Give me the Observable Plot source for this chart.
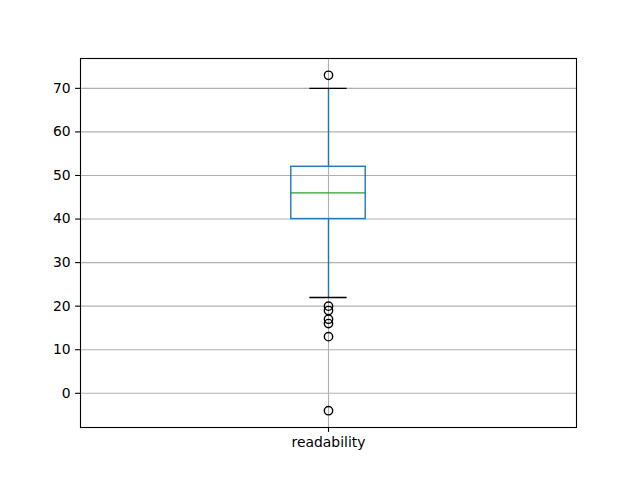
<!DOCTYPE html>
<html>
<head>
<meta charset="utf-8">
<script src="https://cdn.jsdelivr.net/npm/d3@7"></script>
<script src="https://cdn.jsdelivr.net/npm/@observablehq/plot@0.6"></script>
<style>
  html, body { margin: 0; padding: 0; background: #fff; }
  #chart { width: 640px; height: 480px; }
</style>
</head>
<body>
<div id="chart"></div>
<script>
// Data
const categories = ["readability"];
const q1 = [40];
const medians = [46];
const q3 = [52];
const whiskerLow = [22];
const whiskerHigh = [70];
const outliers = [[73, 20, 19, 17, 16, 13, -4]];
const yTicks = [0, 10, 20, 30, 40, 50, 60, 70];

const boxes = categories.map((c, i) => ({
  pos: i + 1, name: c, q1: q1[i], med: medians[i], q3: q3[i],
  lo: whiskerLow[i], hi: whiskerHigh[i]
}));
const points = categories.flatMap((c, i) => outliers[i].map(v => ({pos: i + 1, v})));

const allVals = points.map(d => d.v).concat(whiskerLow, whiskerHigh);
const ymin = d3.min(allVals), ymax = d3.max(allVals);
const pad = (ymax - ymin) * 0.05;

const halfBox = 0.075, halfCap = 0.0375;
const blue = "#1f77b4", green = "#2ca02c";
const lw = 1.39;

const chart = Plot.plot({
  width: 640,
  height: 480,
  marginLeft: 80,
  marginRight: 64,
  marginTop: 58,
  marginBottom: 53,
  style: {background: "#fff", color: "#000", fontFamily: "DejaVu Sans", fontSize: "13.9px"},
  x: {type: "linear", domain: [0.5, categories.length + 0.5]},
  y: {domain: [ymin - pad, ymax + pad]},
  marks: [
    Plot.gridY(yTicks, {stroke: "#b0b0b0", strokeOpacity: 1, strokeWidth: 1.1}),
    Plot.gridX(boxes.map(d => d.pos), {stroke: "#b0b0b0", strokeOpacity: 1, strokeWidth: 1.1}),
    Plot.ruleX(boxes, {x: "pos", y1: "q3", y2: "hi", stroke: blue, strokeWidth: lw}),
    Plot.ruleX(boxes, {x: "pos", y1: "lo", y2: "q1", stroke: blue, strokeWidth: lw}),
    Plot.ruleY(boxes, {y: "hi", x1: d => d.pos - halfCap, x2: d => d.pos + halfCap, stroke: "#000", strokeWidth: lw}),
    Plot.ruleY(boxes, {y: "lo", x1: d => d.pos - halfCap, x2: d => d.pos + halfCap, stroke: "#000", strokeWidth: lw}),
    Plot.rect(boxes, {x1: d => d.pos - halfBox, x2: d => d.pos + halfBox, y1: "q1", y2: "q3", fill: "none", stroke: blue, strokeWidth: lw}),
    Plot.ruleY(boxes, {y: "med", x1: d => d.pos - halfBox, x2: d => d.pos + halfBox, stroke: green, strokeWidth: lw}),
    Plot.dot(points, {x: "pos", y: "v", r: 4.17, stroke: "#000", fill: "none", strokeWidth: lw}),
    Plot.axisY(yTicks, {tickSize: 4.9, tickPadding: 4.9, stroke: "#000", strokeWidth: 1.1, fill: "#000", label: null}),
    Plot.axisX(boxes.map(d => d.pos), {tickSize: 4.9, tickPadding: 4.9, stroke: "#000", strokeWidth: 1.1, fill: "#000", label: null, tickFormat: v => categories[v - 1]}),
    Plot.frame({stroke: "#000", strokeWidth: 1.1})
  ]
});
document.getElementById("chart").appendChild(chart);
</script>
</body>
</html>
